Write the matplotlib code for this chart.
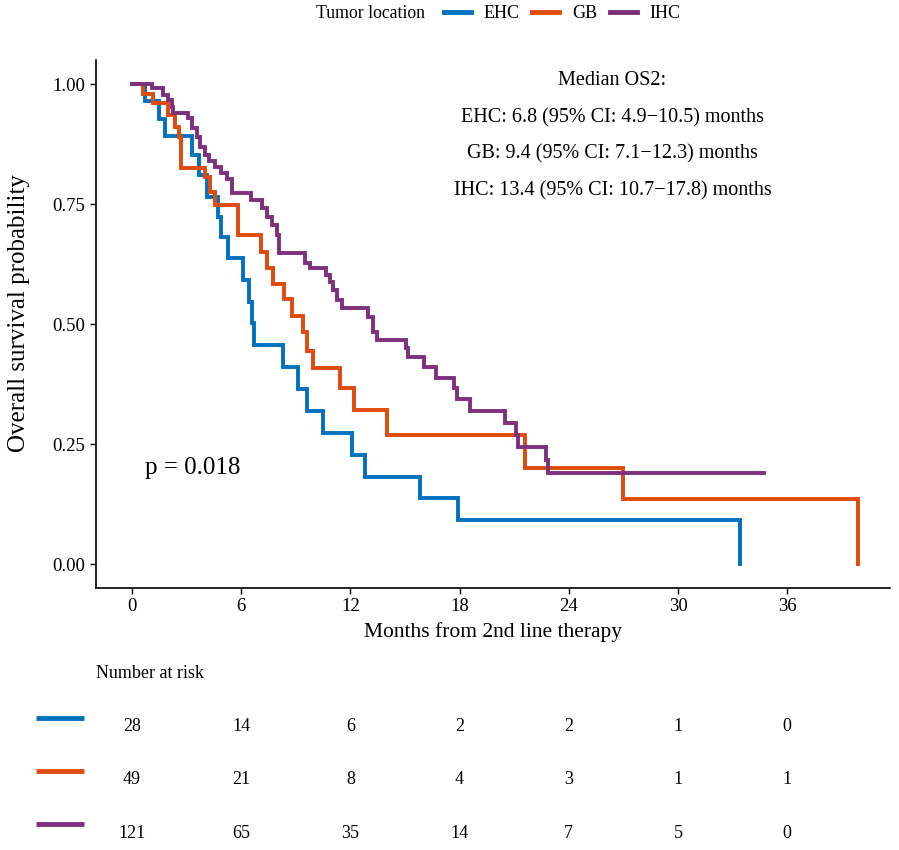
import matplotlib
matplotlib.use("Agg")
import matplotlib.pyplot as plt
from matplotlib.lines import Line2D

plt.rcParams['font.family'] = ['Liberation Serif', 'DejaVu Serif']

# curva de supervivencia por localizacion
ehc_time = [0, 0.7, 1.5, 1.8, 3.3, 3.7, 4.1, 4.7, 4.9, 5.3, 6.1, 6.4, 6.6, 6.7, 8.3, 9.1, 9.6, 10.5, 12.1, 12.8, 15.8, 17.9, 33.4]
ehc_surv = [1, 0.964, 0.927, 0.892, 0.852, 0.810, 0.765, 0.723, 0.681, 0.638, 0.592, 0.546, 0.502, 0.456, 0.41, 0.365, 0.319, 0.274, 0.228, 0.182, 0.137, 0.091, 0.0]

gb_time = [0, 0.6, 1.15, 2.0, 2.35, 2.6, 2.7, 4.0, 4.3, 4.55, 5.8, 7.1, 7.4, 7.75, 8.35, 8.8, 9.4, 9.6, 9.95, 11.4, 12.2, 14.0, 21.6, 27.0, 39.9]
gb_surv = [1, 0.98, 0.96, 0.935, 0.91, 0.89, 0.825, 0.806, 0.775, 0.748, 0.685, 0.65, 0.617, 0.583, 0.552, 0.517, 0.483, 0.444, 0.408, 0.367, 0.321, 0.269, 0.2, 0.135, 0.0]

ihc_time = [0, 1.1, 1.7, 2.0, 2.2, 2.25, 3.1, 3.3, 3.55, 3.75, 4.0, 4.25, 4.55, 4.9, 5.2, 5.5, 6.55, 7.15, 7.4, 7.7, 7.95,
            8.1, 9.5, 9.8, 10.65, 10.9, 11.05, 11.25, 11.55, 12.95, 13.25, 13.45, 15.05, 15.15, 16.05, 16.7, 17.7, 17.85,
            18.55, 20.5, 21.1, 21.2, 22.75, 22.85, 34.7]
ihc_surv = [1, 0.992, 0.977, 0.967, 0.952, 0.94, 0.929, 0.908, 0.89, 0.869, 0.852, 0.84, 0.827, 0.815, 0.802, 0.773, 0.758,
            0.742, 0.723, 0.706, 0.685, 0.648, 0.627, 0.617, 0.602, 0.588, 0.571, 0.55, 0.533, 0.515, 0.483, 0.467, 0.45,
            0.431, 0.41, 0.388, 0.367, 0.344, 0.319, 0.294, 0.269, 0.244, 0.217, 0.19, 0.19]

GRUPOS = ["EHC", "GB", "IHC"]
COLORES = ["#0072BD", "#E04B0C", "#7E2F7E"]
MEDIANAS = ["EHC: 6.8 (95% CI: 4.9\u221210.5) months",
            "GB: 9.4 (95% CI: 7.1\u221212.3) months",
            "IHC: 13.4 (95% CI: 10.7\u221217.8) months"]

TIEMPOS_RIESGO = [0, 6, 12, 18, 24, 30, 36]
en_riesgo = [[28, 14, 6, 2, 2, 1, 0],
             [49, 21, 8, 4, 3, 1, 1],
             [121, 65, 35, 14, 7, 5, 0]]

fig = plt.figure(figsize=(8.99, 8.5), dpi=100)
ax = fig.add_axes([0.1068, 0.3082, 0.8832, 0.6212])

curvas = [(ehc_time, ehc_surv), (gb_time, gb_surv), (ihc_time, ihc_surv)]
for (t, s), color in zip(curvas, COLORES):
    ax.step(t, s, where="post", color=color, lw=2.8, solid_joinstyle="miter")

ax.set_xlim(-1.98, 41.65)
ax.set_ylim(-0.05, 1.05)
ax.set_xticks(TIEMPOS_RIESGO)
ax.set_yticks([0, 0.25, 0.5, 0.75, 1.0])
ax.set_yticklabels(["0.00", "0.25", "0.50", "0.75", "1.00"])
ax.tick_params(labelsize=13.5, length=4, width=1, colors="black")
for lado in ["top", "right"]:
    ax.spines[lado].set_visible(False)
for lado in ["left", "bottom"]:
    ax.spines[lado].set_linewidth(1.2)
ax.set_xlabel("Months from 2nd line therapy", fontsize=15.5, labelpad=5)
ax.set_ylabel("Overall survival probability", fontsize=18)
ax.yaxis.set_label_coords(-0.083, 0.52)

ax.text(26.4, 1.008, "Median OS2:", fontsize=14.5, ha="center", va="center")
for i, txt in enumerate(MEDIANAS):
    ax.text(26.4, 0.930 - i * 0.0765, txt, fontsize=14.5, ha="center", va="center")
ax.text(0.7, 0.2, "p = 0.018", fontsize=18, ha="left", va="center")

# leyenda de arriba
fig.text(316 / 899, 1 - 14 / 850, "Tumor location", fontsize=12.8, ha="left", va="center")
handles = [Line2D([0], [0], color=c, lw=3.5) for c in COLORES]
fig.legend(handles, GRUPOS, ncol=3, loc="center left", bbox_to_anchor=(444 / 899, 1 - 14 / 850),
           frameon=False, fontsize=13, handlelength=1.5, handletextpad=0.7, columnspacing=0.7,
           borderaxespad=0, borderpad=0)

# tabla de numero en riesgo
tab = fig.add_axes([0.1068, 0.0, 0.8832, 1 - 700 / 850])
tab.set_xlim(-1.98, 41.65)
tab.set_ylim(850, 700)
tab.axis("off")
fig.text(96 / 899, 1 - 673 / 850, "Number at risk", fontsize=13, ha="left", va="center")
filas_y = [727, 780, 833]
for fila, y, color in zip(en_riesgo, filas_y, COLORES):
    tab.plot([-5.27, -2.64], [y - 9, y - 9], color=color, lw=3.5, clip_on=False, solid_capstyle="butt")
    for t, n in zip(TIEMPOS_RIESGO, fila):
        tab.text(t, y, str(n), fontsize=13, ha="center", va="center")

plt.savefig("out.png", dpi=100)
